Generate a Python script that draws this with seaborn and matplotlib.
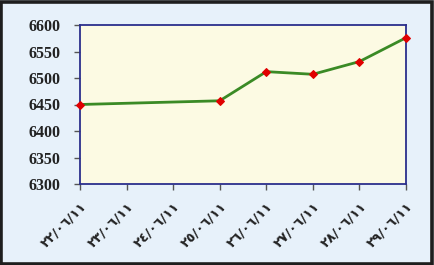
import matplotlib
matplotlib.use("Agg")
import matplotlib.pyplot as plt
import seaborn as sns
import pandas as pd
from matplotlib.patches import Rectangle

x_labels = ["٢٢/٠٦/١١", "٢٣/٠٦/١١", "٢٤/٠٦/١١", "٢٥/٠٦/١١",
            "٢٦/٠٦/١١", "٢٧/٠٦/١١", "٢٨/٠٦/١١", "٢٩/٠٦/١١"]
point_dates = ["٢٢/٠٦/١١", "٢٥/٠٦/١١", "٢٦/٠٦/١١", "٢٧/٠٦/١١", "٢٨/٠٦/١١", "٢٩/٠٦/١١"]
values = [6450, 6457, 6512, 6507, 6531, 6576]
y_ticks = [6300, 6350, 6400, 6450, 6500, 6550, 6600]

df = pd.DataFrame({"pos": [x_labels.index(d) for d in point_dates], "value": values})

sns.set_theme(style="white")
fig = plt.figure(figsize=(4.35, 2.65), dpi=100)
fig.patch.set_facecolor("#E7F1FA")
fig.patches.append(Rectangle((1.5/435, 1.5/265), 1 - 4.5/435, 1 - 3.5/265,
                             transform=fig.transFigure, facecolor="none",
                             edgecolor="#1e1e1e", linewidth=2.6, zorder=10))
ax = fig.add_axes([80/435, 1 - 184/265, 326/435, 159/265])
ax.set_facecolor("#FCFAE3")

sns.lineplot(data=df, x="pos", y="value", ax=ax, color="#3A8A25", linewidth=2,
             marker="D", markersize=4.5, markerfacecolor="#E00000",
             markeredgecolor="#E00000", clip_on=False, zorder=5)

ax.set_xlim(0, len(x_labels) - 1)
ax.set_ylim(6300, 6600)
ax.set_xticks(range(len(x_labels)))
ax.set_xticklabels(x_labels, rotation=45, ha="right", rotation_mode="anchor",
                   fontsize=9.5, fontweight="bold", family="DejaVu Sans", color="#222222")
ax.set_yticks(y_ticks)
ax.set_yticklabels([str(v) for v in y_ticks], fontsize=11.5, fontweight="bold",
                   family="Liberation Serif", color="#222222")
ax.set_xlabel("")
ax.set_ylabel("")
for s in ax.spines.values():
    s.set_color("#2B2F8C")
    s.set_linewidth(1.3)
ax.tick_params(axis="both", which="both", direction="out", length=4, width=1,
               color="#555555", left=True, bottom=True)
ax.tick_params(axis="x", pad=7)
ax.tick_params(axis="y", pad=10)

fig.savefig("out.png", dpi=100, facecolor=fig.get_facecolor())
